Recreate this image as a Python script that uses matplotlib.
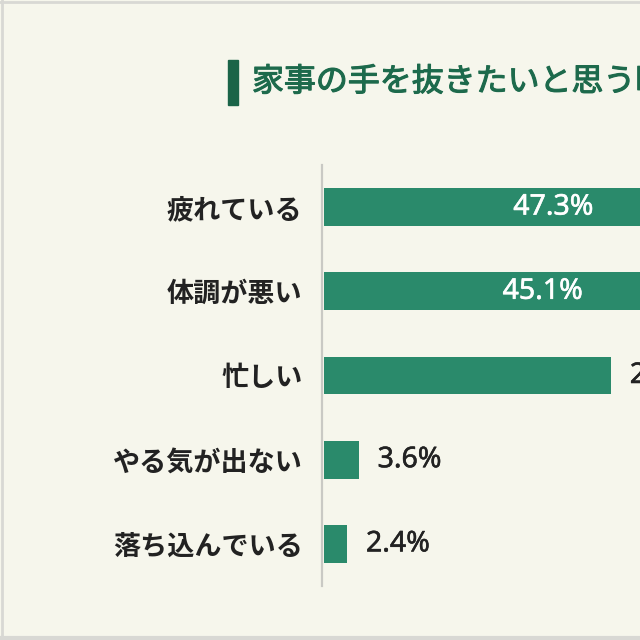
import matplotlib.pyplot as plt
import matplotlib.patheffects as pe
from matplotlib.patches import Rectangle
from matplotlib.lines import Line2D

plt.rcParams['font.family'] = ['Noto Sans CJK JP', 'DejaVu Sans']

# chart data
categories = ['疲れている', '体調が悪い', '忙しい', 'やる気が出ない', '落ち込んでいる']
values = [47.3, 45.1, 29.6, 3.6, 2.4]
title = '家事の手を抜きたいと思う時'

bg = '#f6f6ec'
bar_color = '#2a8a6b'
title_color = '#1d6a4c'

W = H = 640
fig = plt.figure(figsize=(6.4, 6.4), dpi=100, facecolor=bg)

# axes placed in pixel terms, runs off the right edge like the cropped original
x0, x_top, x_bot = 322, 165, 586
px_per_pct = 9.7
xmax = 60
ax = fig.add_axes([x0 / W, 1 - x_bot / H, xmax * px_per_pct / W, (x_bot - x_top) / H])
ax.set_facecolor('none')

y = range(len(categories))
ax.barh(y, values, height=0.45, color=bar_color, left=0.2)
ax.set_xlim(0, xmax)
ax.set_ylim(len(categories) - 0.5, -0.5)

ax.set_yticks(list(y))
ax.set_yticklabels(categories, fontsize=19.5, color='#222222', fontweight='bold')
ax.tick_params(axis='y', length=0, pad=14)
ax.set_xticks([])
for s in ['top', 'right', 'bottom']:
    ax.spines[s].set_visible(False)
ax.spines['left'].set_color('#c9c9c4')
ax.spines['left'].set_linewidth(1.6)

num_font = ['Noto Sans', 'DejaVu Sans']
for i, v in enumerate(values):
    label = f'{v:.1f}%'
    if v > 40:
        ax.text(v / 2 + 0.2, i, label, ha='center', va='center', color='white',
                fontsize=20.5, family=num_font,
                path_effects=[pe.withStroke(linewidth=0.4, foreground='white')])
    else:
        ax.annotate(label, (v + 0.2, i), xytext=(13.5, 0), textcoords='offset points',
                    ha='left', va='center', color='#222222', fontsize=20.5, family=num_font,
                    path_effects=[pe.withStroke(linewidth=0.4, foreground='#222222')])

# title with green marker
fig.patches.append(Rectangle((228 / W, 1 - 105 / H), 10 / W, 45 / H,
                             transform=fig.transFigure, color='#1a6448'))
fig.text(252 / W, 1 - 82 / H, title, ha='left', va='center', fontsize=23,
         color=title_color,
         path_effects=[pe.withStroke(linewidth=0.8, foreground=title_color)])

# faint frame around the card
frame = '#d8d8d4'
fig.lines.append(Line2D([0, 1], [1 - 1.5 / H] * 2, transform=fig.transFigure, color=frame, lw=2))
fig.lines.append(Line2D([1.5 / W] * 2, [0, 1], transform=fig.transFigure, color=frame, lw=2))
fig.lines.append(Line2D([0, 1], [2 / H] * 2, transform=fig.transFigure, color=frame, lw=3))

fig.savefig('out.png', dpi=100, facecolor=bg)
